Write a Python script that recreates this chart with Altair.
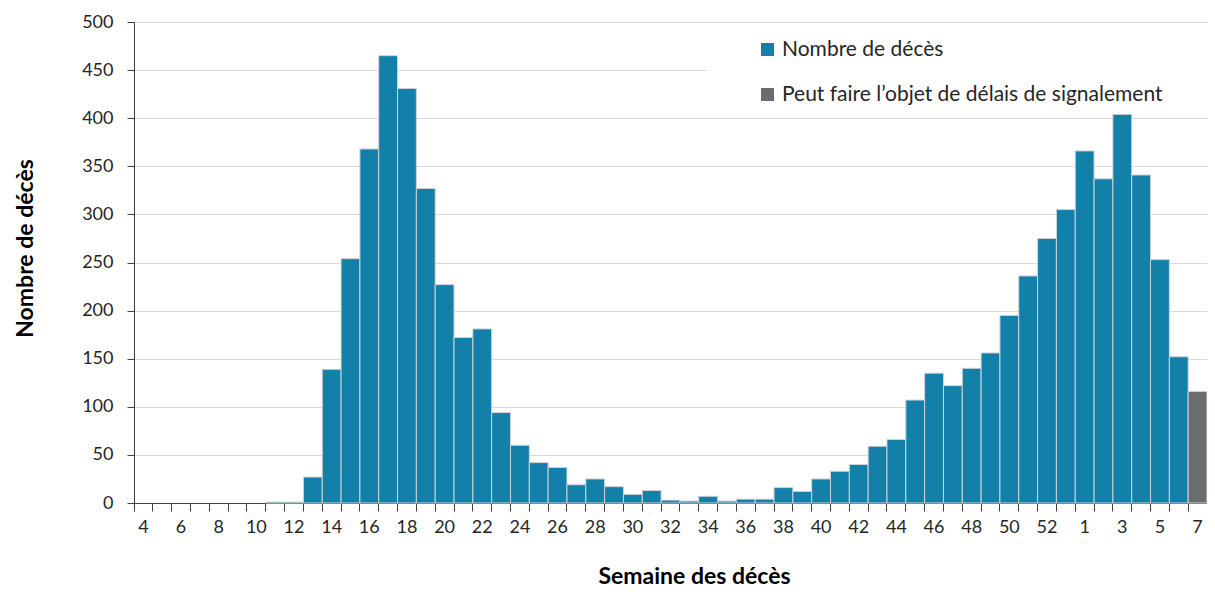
import json
import altair as alt
import pandas as pd

# ---- data -------------------------------------------------------------
weeks_2020 = [4, 5, 6, 7, 8, 9, 10, 11, 12, 13, 14, 15, 16, 17, 18, 19, 20, 21, 22,
              23, 24, 25, 26, 27, 28, 29, 30, 31, 32, 33, 34, 35, 36, 37, 38, 39, 40,
              41, 42, 43, 44, 45, 46, 47, 48, 49, 50, 51, 52, 53]
deaths_2020 = [0, 0, 0, 0, 0, 0, 0, 1, 1, 27, 139, 254, 368, 465, 431, 327, 227, 172,
               181, 94, 60, 42, 37, 19, 25, 17, 9, 13, 3, 2, 7, 2, 4, 4, 16, 12, 25,
               33, 40, 59, 66, 107, 135, 122, 140, 156, 195, 236, 275, 305]
weeks_2021 = [1, 2, 3, 4, 5, 6, 7]
deaths_2021 = [366, 337, 404, 341, 253, 152, 116]

series_names = ["Nombre de décès", "Peut faire l’objet de délais de signalement"]
series_colors = ["#1380A9", "#6B6C6F"]
y_ticks = [0, 50, 100, 150, 200, 250, 300, 350, 400, 450, 500]

# ---- table --------------------------------------------------------------
rows = []
for w, d in zip(weeks_2020, deaths_2020):
    rows.append({"key": f"2020-{w}", "deaths": d, "status": series_names[0]})
for i, (w, d) in enumerate(zip(weeks_2021, deaths_2021)):
    st = series_names[1] if i == len(weeks_2021) - 1 else series_names[0]
    rows.append({"key": f"2021-{w}", "deaths": d, "status": st})
df = pd.DataFrame(rows)
keys = list(df["key"])
shown = [k for i, k in enumerate(keys) if i % 2 == 0]

label_expr = ("indexof(" + json.dumps(shown) +
              ", datum.value) >= 0 ? split(datum.value, '-')[1] : ''")

FONT = "Lato"
TXT = "#262626"
AX = "#404040"

bars = alt.Chart(df).mark_bar(stroke="#cfd3d6", strokeWidth=1).encode(
    x=alt.X(
        "key:N",
        sort=keys,
        scale=alt.Scale(paddingInner=0, paddingOuter=0),
        title="Semaine des décès",
        axis=alt.Axis(
            labelExpr=label_expr,
            labelAngle=0,
            bandPosition=0,
            tickExtra=True,
            tickSize=8,
            tickColor=AX,
            domainColor=AX,
            labelFont=FONT,
            labelFontSize=18,
            labelColor=TXT,
            labelPadding=7,
            labelOverlap=False,
            titleFont=FONT,
            titleFontSize=23,
            titleFontWeight="bold",
            titleColor="black",
            titleX=560,
            titleY=73,
            titleBaseline="middle",
            titleAlign="center",
            grid=False,
        ),
    ),
    y=alt.Y(
        "deaths:Q",
        scale=alt.Scale(domain=[0, 500], nice=False),
        title="Nombre de décès",
        axis=alt.Axis(
            values=y_ticks,
            tickSize=7,
            tickColor=AX,
            domainColor=AX,
            labelFont=FONT,
            labelFontSize=18,
            labelColor=TXT,
            labelPadding=14,
            gridColor="#d9d9d9",
            gridWidth=1,
            titleFont=FONT,
            titleFontSize=23,
            titleFontWeight="bold",
            titleColor="black",
            titleX=-109,
            titleY=226,
            titleAngle=270,
            titleBaseline="middle",
            titleAlign="center",
        ),
    ),
    color=alt.Color(
        "status:N",
        scale=alt.Scale(domain=series_names, range=series_colors),
        legend=alt.Legend(
            title=None,
            orient="none",
            legendX=623,
            legendY=17,
            direction="vertical",
            symbolType="square",
            symbolSize=169,
            symbolStrokeWidth=0,
            labelFont=FONT,
            labelFontSize=21,
            labelColor=TXT,
            labelOffset=4,
            rowPadding=23,
            padding=0,
            labelLimit=600,
        ),
    ),
    strokeOpacity=alt.condition("datum.deaths > 0", alt.value(1), alt.value(0)),
)

mask = alt.Chart(alt.Data(values=[{}])).mark_rect(color="white").encode(
    x=alt.value(573), x2=alt.value(1073), y=alt.value(10), y2=alt.value(90)
)

chart = alt.layer(bars, mask).properties(
    width=1073,
    height=481,
    autosize=alt.AutoSizeParams(type="none"),
    padding={"left": 126, "top": 14, "right": 0, "bottom": 84},
).configure_view(stroke=None).configure(background="white")

chart.save("out.html", embed_options={"renderer": "svg", "actions": False})
